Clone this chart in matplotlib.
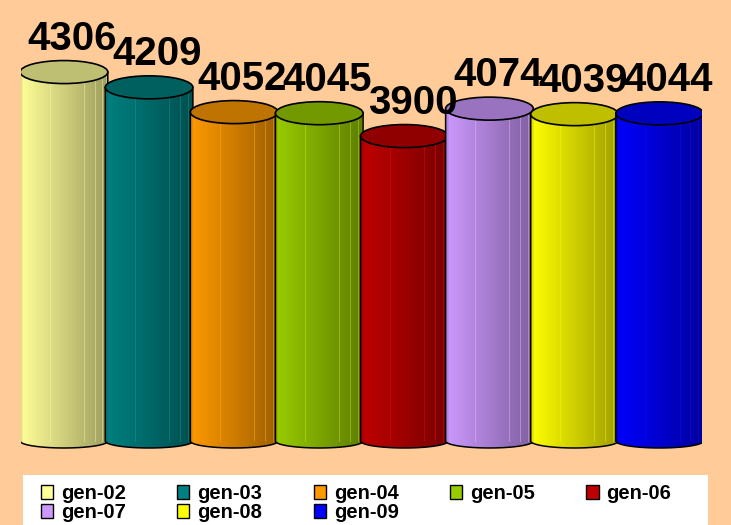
import numpy as np
import matplotlib
matplotlib.use("Agg")
import matplotlib.pyplot as plt
import matplotlib.colors as mcolors
from matplotlib.patches import Ellipse, Polygon, Rectangle

categories = ['gen-02', 'gen-03', 'gen-04', 'gen-05', 'gen-06', 'gen-07', 'gen-08', 'gen-09']
values = [4306, 4209, 4052, 4045, 3900, 4074, 4039, 4044]
colors = ['#FFFF99', '#008080', '#FF9900', '#99CC00', '#C00000', '#CC99FF', '#FFFF00', '#0000FF']

FONT = ['Liberation Sans', 'DejaVu Sans']
BG = '#FFCC99'

fig = plt.figure(figsize=(7.31, 5.25), dpi=100, facecolor=BG)
ax = fig.add_axes([0.0293, 0.1299, 0.9313, 0.8211])
ax.set_axis_off()

# cylinder geometry (data units)
BASE = 1965
W = 1.03
TOP_H = 146
BOT_D = 44

for i, (v, c) in enumerate(zip(values, colors)):
    rgb = np.array(mcolors.to_rgb(c))
    x0, x1 = i - W / 2, i + W / 2
    z = 2 + i

    th = np.linspace(np.pi, 2 * np.pi, 60)
    bx = i + W / 2 * np.cos(th)
    by = BASE + BOT_D * np.sin(th)
    verts = [(x0, v)] + list(zip(bx, by)) + [(x1, v)]

    # shaded body
    t = np.linspace(0, 1, 200)
    shade = 1 - 0.38 * t
    shade[t < 0.03] *= 0.88
    img = (rgb[None, :] * shade[:, None])[None, :, :]
    im = ax.imshow(img, extent=[x0, x1, BASE - BOT_D, v], aspect='auto',
                   interpolation='bilinear', zorder=z)
    clip = Polygon(verts, closed=True, facecolor='none', edgecolor='none')
    ax.add_patch(clip)
    im.set_clip_path(clip)

    # facet lines
    for a in [0.25, 0.5, 0.8, 1.1, 1.9]:
        xl = i + W / 2 * np.cos(a)
        ax.plot([xl, xl], [BASE, v], color=np.clip(rgb * 1.15 + 0.08, 0, 1),
                lw=0.6, alpha=0.45, zorder=z + 0.1)

    ax.add_patch(Polygon(verts, closed=True, facecolor='none', edgecolor='black',
                         lw=1.1, zorder=z + 0.2))
    ax.add_patch(Ellipse((i, v), W, TOP_H, facecolor=rgb * 0.75, edgecolor='black',
                         lw=1.2, zorder=z + 0.3))

    ax.annotate(f'{v}', (i, v), xytext=(6, 16), textcoords='offset points',
                ha='center', va='baseline', fontsize=29, fontweight='bold',
                family=FONT, zorder=30, annotation_clip=False)

ax.set_xlim(-0.5, 7.5)
ax.set_ylim(BASE - 100, 4600)

# legend box
fig.add_artist(Rectangle((23 / 731, 0), 685 / 731, 50 / 525, transform=fig.transFigure,
                         facecolor='white', edgecolor='none', zorder=1))
handles = [Rectangle((0, 0), 1, 1, facecolor=c, edgecolor='black', lw=1) for c in colors]
order = [0, 5, 1, 6, 2, 7, 3, 4]
fig.legend([handles[k] for k in order], [categories[k] for k in order], ncol=5,
           loc='upper left', bbox_to_anchor=(41 / 731, 1 - 484 / 525),
           frameon=False, borderpad=0, borderaxespad=0,
           prop={'family': FONT, 'weight': 'bold', 'size': 14.5},
           handlelength=0.6, handleheight=0.65, handletextpad=0.4,
           columnspacing=2.55, labelspacing=0.0)

fig.savefig('out.png', dpi=100, facecolor=BG)
